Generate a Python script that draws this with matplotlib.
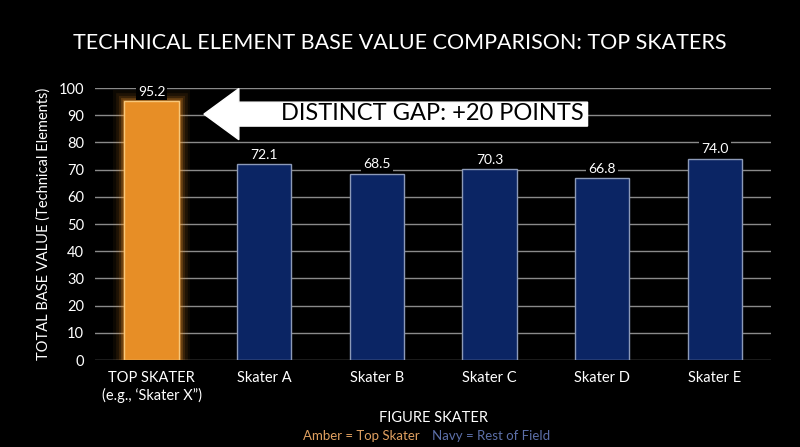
import matplotlib.pyplot as plt
from matplotlib.patches import FancyArrow

skaters = ["TOP SKATER\n(e.g., \u2018Skater X\u201d)", "Skater A", "Skater B", "Skater C", "Skater D", "Skater E"]
base_values = [95.2, 72.1, 68.5, 70.3, 66.8, 74.0]
y_ticks = [0, 10, 20, 30, 40, 50, 60, 70, 80, 90, 100]

amber = "#E78E26"
amber_edge = "#F7C77A"
navy = "#0B2564"
navy_edge = "#8C9AB8"

plt.rcParams['font.family'] = ['Lato', 'DejaVu Sans']

fig = plt.figure(figsize=(8, 4.47), dpi=100, facecolor="black")
ax = fig.add_axes([0.119, 0.1946, 0.845, 0.6085], facecolor="black")

x = list(range(len(skaters)))
colors = [amber] + [navy] * (len(skaters) - 1)
edges = [amber_edge] + [navy_edge] * (len(skaters) - 1)

# glow around top skater bar
for lw, a in [(16, 0.05), (12, 0.08), (8, 0.12), (5, 0.2), (2.5, 0.3)]:
    ax.bar(x[0], base_values[0], width=0.48, color="none", edgecolor="#FF9E2C",
           linewidth=lw, alpha=a, zorder=2)
ax.bar(x, base_values, width=0.48, color=colors, edgecolor=edges, linewidth=1.0, zorder=3)

for xi, v in zip(x, base_values):
    ax.text(xi, v + 1.2, f"{v:.1f}", ha="center", va="bottom", color="white", fontsize=10,
            zorder=4, bbox=dict(boxstyle="square,pad=0.15", fc="black", ec="none"))

ax.set_xlim(-0.5, 5.5)
ax.set_ylim(0, 100)
ax.set_yticks(y_ticks)
ax.set_xticks(x)
ax.set_xticklabels(skaters, color="white", fontsize=10.5)
ax.tick_params(axis="y", colors="white", labelsize=10.5, length=0, pad=8)
ax.tick_params(axis="x", length=0, pad=8)
ax.yaxis.grid(True, color="#8a8a8a", linewidth=1.0, zorder=0)
ax.set_axisbelow(True)
for s in ax.spines.values():
    s.set_visible(False)

ax.set_ylabel("TOTAL BASE VALUE (Technical Elements)", color="white", fontsize=10.5, labelpad=6)
ax.set_xlabel("FIGURE SKATER", color="white", fontsize=10.5, labelpad=6)

# gap arrow
arrow_y = base_values[0] - 4.8
ax.add_patch(FancyArrow(3.87, arrow_y, -3.405, 0, width=8.8, head_width=18.8, head_length=0.31,
                        length_includes_head=True, color="white", zorder=5))
ax.text(3.84, arrow_y + 0.3, "DISTINCT GAP: +20 POINTS", ha="right", va="center",
        color="black", fontsize=17, zorder=6)

fig.text(0.5, 0.904, "TECHNICAL ELEMENT BASE VALUE COMPARISON: TOP SKATERS",
         ha="center", va="center", color="white", fontsize=15.5)

fig.text(0.525, 0.024, "Amber = Top Skater", ha="right", va="center", color="#E0A060", fontsize=9.5)
fig.text(0.54, 0.024, "Navy = Rest of Field", ha="left", va="center", color="#5C6FA8", fontsize=9.5)

fig.savefig("out.png", dpi=100, facecolor="black")
